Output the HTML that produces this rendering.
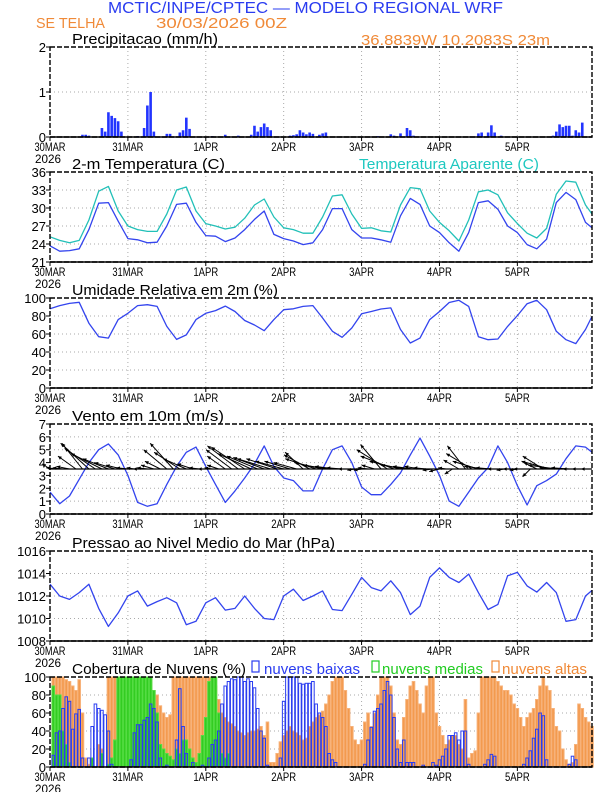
<!DOCTYPE html>
<html><head><meta charset="utf-8"><style>
html,body{margin:0;padding:0;background:#fff;}
svg{display:block;font-family:"Liberation Sans",sans-serif;}
</style></head><body>
<svg id="chart" width="612" height="792" viewBox="0 0 612 792" xmlns="http://www.w3.org/2000/svg">
<text x="108" y="13" font-size="16" fill="#2a3cf0" textLength="395" lengthAdjust="spacingAndGlyphs">MCTIC/INPE/CPTEC — MODELO REGIONAL WRF</text>
<text x="36" y="28" font-size="15" fill="#f08a38" textLength="69" lengthAdjust="spacingAndGlyphs">SE TELHA</text>
<text x="156" y="28" font-size="15" fill="#f08a38" textLength="131" lengthAdjust="spacingAndGlyphs">30/03/2026 00Z</text>
<text x="361" y="45" font-size="15" fill="#f08a38" textLength="189" lengthAdjust="spacingAndGlyphs">36.8839W 10.2083S 23m</text>
<g id="layer"></g>
</svg>
<script>
// ---- data ----
const dayLabels = ["30MAR","31MAR","1APR","2APR","3APR","4APR","5APR"];
const precipHours = [7,10,11,12,16,17,18,19,20,21,22,27,29,30,31,32,36,37,40,41,42,43,50,54,58,62,63,64,65,66,67,68,74,75,76,77,78,79,80,81,83,84,85,101,105,106,108,110,111,112,119,132,133,135,136,137,139,155,156,157,158,159,160,161,162,163,164];
const precipValues = [.01,.05,.05,.03,.2,.12,.55,.47,.42,.35,.12,.02,.2,.7,1.0,.12,.07,.07,.1,.15,.43,.18,.02,.05,.03,.05,.25,.12,.22,.3,.22,.15,.03,.04,.06,.15,.1,.06,.1,.07,.05,.08,.1,.02,.06,.03,.08,.2,.15,.03,.01,.08,.1,.1,.26,.1,.03,.03,.12,.28,.22,.25,.25,.03,.15,.1,.32];
const lineHours = [0,3,6,9,12,15,18,21,24,27,30,33,36,39,42,45,48,51,54,57,60,63,66,69,72,75,78,81,84,87,90,93,96,99,102,105,108,111,114,117,120,123,126,129,132,135,138,141,144,147,150,153,156,159,162,165,167];
const tempValues = [23.7,22.8,22.9,23.2,26.4,30.8,30.9,27.8,24.9,24.7,24.2,24.3,27,30.6,30.8,27.6,25.4,25.3,24.4,25,26.4,28.1,29.5,25.6,24.9,24.5,23.9,24.2,26.4,29.9,29.9,26.4,25,25,24.7,24.3,28.7,31.6,30.6,27,25.9,24.2,22.8,25.9,30.9,31.2,29.8,27,25.9,23.9,23.2,24.8,30.9,32.6,31.4,27.6,26.7];
const apparentValues = [25.2,24.6,24.2,24.6,28,32.8,33.6,29.5,27,26.4,26.1,26.1,29,33,33.5,29.5,27.4,27,26.5,26.8,28.3,30.5,31.5,28.5,26.7,26.4,25.8,25.8,28.5,32,32.2,29,26.6,26.7,26.2,26,30.5,33.4,33.2,29.5,27.6,26.2,24.5,28,32.7,33,32.2,29.2,27.4,25.8,25,26.6,32.3,34.5,34.3,30.5,29];
const humidityValues = [88,91.5,94,95.2,72,57,55.5,76,83,91.5,92.6,90.7,68.5,54,59,76,83,86,91,85,75,70,63.7,76,87,88,90.7,91.5,77.8,63,56.3,66.7,82.6,85,87.8,89,65,50,55.5,76,85,95,97.4,90.7,57,53.7,54.4,68.5,80.4,93.7,97.4,87,63,53.7,49.3,65,79.6];
const windSpeedValues = [1.7,0.8,1.4,2.7,4,5,5.45,4.6,3,0.9,0.6,0.8,2.3,3.7,4.8,5.2,3.7,2.3,0.9,1.8,2.8,3.9,5.3,3.7,2.8,2.6,1.8,1.8,3.5,5,5.3,4,2.1,1.5,1.5,2.3,3.2,4.6,5.9,4.5,3,1,0.6,1.7,2.8,3.6,5.3,4,2.2,0.7,2.2,2.6,3.1,4.3,5.3,5.2,4.8];
const pressureValues = [1013.05,1012,1011.7,1012.3,1013.05,1010.9,1009.3,1010.5,1012,1012.45,1011.1,1011.5,1011.85,1011.4,1009.45,1009.75,1011.4,1011.85,1010.75,1010.9,1012,1010.9,1010,1009.9,1012,1012.6,1011.6,1012,1012.45,1010.8,1010.7,1012.15,1013.65,1012.75,1012.45,1013.35,1012.3,1010.35,1011.1,1013.65,1014.5,1013.65,1013.2,1013.95,1012.3,1010.8,1011.25,1013.8,1014.1,1012.9,1012.35,1013.2,1012.3,1009.75,1009.9,1012,1012.5];
const vectorHours = [0,2,4,6,8,10,12,14,16,18,20,22,24,26,28,30,32,34,36,38,40,42,44,46,48,50,52,54,56,58,60,62,64,66,68,70,72,74,76,78,80,82,84,86,88,90,92,94,96,98,100,102,104,106,108,110,112,114,116,118,120,122,124,126,128,130,132,134,136,138,140,142,144,146,148,150,152,154,156,158,160,162,164,166];
const windU = [-0.6,-0.8,-0.8,-1.0,-1.4,-1.6,-2.2,-2.4,-2.4,-2.0,-1.6,-1.2,-0.9,-0.6,-0.6,-0.8,-1.0,-1.2,-1.8,-1.8,-2.0,-1.8,-1.2,-0.8,-0.6,-0.6,-0.9,-1.4,-2.0,-2.4,-2.6,-2.6,-2.4,-2.4,-2.6,-2.4,-2.2,-2.0,-1.8,-1.4,-2.0,-2.4,-2.2,-2.0,-1.6,-1.2,-0.8,-0.6,-0.6,-0.8,-1.0,-1.6,-2.4,-2.6,-2.4,-2.0,-1.6,-1.2,-1.0,-0.8,-0.8,-0.6,-0.6,-1.2,-1.4,-2.0,-2.0,-1.6,-1.2,-0.8,-0.6,-0.6,-0.6,-0.8,-0.6,-1.0,-1.6,-2.2,-2.2,-1.8,-1.4,-1.0,-0.8,-0.6];
const windV = [0.4,0.1,0.1,0.2,1.0,2.0,2.0,1.6,1.2,0.8,0.5,0.3,0.1,0.1,0.0,0.1,0.3,0.6,1.5,2.0,1.3,0.8,0.4,0.1,0.0,0.1,0.3,1.0,1.5,1.8,1.7,1.2,1.0,0.9,0.8,0.8,0.6,0.6,0.5,1.3,1.1,0.8,0.5,0.3,0.2,0.1,0.0,-0.1,-0.1,0.1,0.3,1.9,1.5,1.0,0.6,0.3,0.2,0.2,0.1,-0.1,-0.2,0.1,-0.4,0.7,1.8,1.2,0.6,0.2,0.1,0.0,-0.1,0.0,-0.1,0.0,-0.6,0.5,1.0,0.6,0.3,0.1,0.1,0.0,0.0,0.0];
const cloudHigh = [0,100,100,100,100,97,95,90,85,97, 60,10,3,0,0,25,20,0, 100,100,100,100,100,100,100,100,100,100,100,100,100,100, 85,80,68,60,55,58, 100,100,100,100,100,100,100,100,100,100,100,100,100, 90,75,60,55,50,48,45,40,38,35,38,40,40,42,45,35,50, 5,5,15,28, 35,40,45,40,38,35,30,32,45,50,55,58, 62,70,80,95,100,100,100,85,65,45,30,25,30, 50,60,45,60,80,100,100,100,90,60,30, 25,55,75,90,95,85,70,60,90,100,100,60, 45,35,25,30,35,35,25,20,75,10,15,18,60,100, 100,100,100,100,95,90,85,85,80,70,65,55,45, 55,60,65,75,90,100,90,85,65, 45,40,20,8,3,5,25,70,65,55,50,45];
const cloudMid = [0,90,80,80,40,25,5,0, 0,0,0,0,0,10,0,0,15,0, 3,10,30,100,100,100, 100,100,100,100,100,100,100,100, 85,60,25,20,15,12,8,20,15,30,30,20,10,5, 15,35,55,95,100,100,60,15,10,15,
 0,0,0,0,0,0,0,0,0,0,0,0,0,0,0,0,0,0,0,0,0,0,0,0,0,0,0,0,0,0,0,0,0,0,0,0,0,0,0,0,0,0,0,0,0,0,0,0,0,0,0,0,0,0,0,0,0,0,0,0,0,0,0,0,0,0,0,0,0,0,0,0,0,0,0,0,0,0,0,0,0,0,0,0,0,0,0,0,0,0,0,0,0,0,0,0,0,0,0,0,0,0,0,0,0,0,0,0,0,0,0,0];
const cloudLow = [0,13,38,40,65,78,73,42,59,64, 10,0,10,45,70,65,63,58,40,3, 0,0,0,0,0,8,38,47,47,52, 55,70,65,50,10,0,2,0,0,30, 87,45,15,0,5,0,0,2,0,10, 25,30,40,70,90,95,98,97,100,100, 95,98,95,88,65,40,32,2,0,0, 0,10,73,100,100,100,100,93,92,93, 93,95,70,60,55,45,15,8,5,0, 0,0,0,0,0,0,0,3,30,44, 62,65,70,85,95,80,55,20,5,30, 5,5,5,0,0,2,0,0,5,2, 8,12,20,35,35,38,30,40,40,3, 0,0,0,0,3,8,14,12,0,0, 0,0,0,0,0,0,3,10,18,32, 42,60,57,8,0,0,0,0,0,0, 3,12,8,0,0,0,0,0];

// ---- helpers ----
const NS = "http://www.w3.org/2000/svg";
const layer = document.getElementById("layer");
const X0 = 50, X1 = 592, HMAX = 167, PH = 90;
function xh(h){ return X0 + h * (X1 - X0) / HMAX; }
function mk(tag, attrs, parent){ const e = document.createElementNS(NS, tag); for (const k in attrs) e.setAttribute(k, attrs[k]); (parent||layer).appendChild(e); return e; }
function txt(s, attrs, parent){ const e = mk("text", attrs, parent); e.textContent = s; return e; }

function panel(name, top, ymin, ymax, ticks, tickFmt){
  const g = mk("g", {});
  
  
  const bot = top + PH;
  const yf = v => bot - (v - ymin) / (ymax - ymin) * PH;
  // grid
  for (let d = 1; d < dayLabels.length; d++) {
    const gl = mk("line", {x1: xh(d*24), x2: xh(d*24), y1: top, y2: bot, stroke: "#aaa", "stroke-dasharray": "1,3"}, g);
    
    
  }
  ticks.forEach((t, i) => {
    if (i > 0 && i < ticks.length - 1) {
      const gl = mk("line", {x1: X0, x2: X1, y1: yf(t), y2: yf(t), stroke: "#aaa", "stroke-dasharray": "1,3"}, g);
      
      
    }
    const tk = mk("line", {x1: X0 - 4, x2: X0, y1: yf(t), y2: yf(t), stroke: "#000"}, g);
    
    
    const lb = txt(tickFmt ? tickFmt(t) : String(t), {x: X0 - 4, y: yf(t) + 5, "font-size": 13, "text-anchor": "end", fill: "#000"}, g);
    
    
  });
  dayLabels.forEach((d, i) => {
    const tk = mk("line", {x1: xh(i*24), x2: xh(i*24), y1: bot, y2: bot + 4, stroke: "#000"}, g);
    
    
    const lb = txt(d, {x: xh(i*24), y: bot + 14, "font-size": 12, "text-anchor": "middle", fill: "#000", textLength: d.length * 6.2, lengthAdjust: "spacingAndGlyphs"}, g);
    
    
  });
  const yr = txt("2026", {x: 48, y: bot + 26, "font-size": 12, "text-anchor": "middle", fill: "#000", textLength: 26, lengthAdjust: "spacingAndGlyphs"}, g);
  
  
  return {g, top, bot, yf};
}
function frame(p){
  const f = mk("rect", {x: X0, y: p.top, width: X1 - X0, height: PH, fill: "none", stroke: "#000", "stroke-width": 1.4, "stroke-dasharray": "5,2"}, p.g);
  
  
  const b = mk("line", {x1: X0, x2: X1, y1: p.bot, y2: p.bot, stroke: "#000", "stroke-width": 1.4}, p.g);
  
  
}
function title(p, s, x, w, color){
  const t = txt(s, {x: x, y: p.top - 3, "font-size": 15, fill: color || "#000", textLength: w, lengthAdjust: "spacingAndGlyphs"}, p.g);
  return t;
}
function line(p, hours, vals, color, name){
  const pts = hours.map((h, i) => xh(h).toFixed(1) + "," + p.yf(vals[i]).toFixed(1)).join(" ");
  const l = mk("polyline", {points: pts, fill: "none", stroke: color, "stroke-width": 1.3, "stroke-linejoin": "round"}, p.g);
  
  
}

// ---- precipitation ----
const p1 = panel("precipitation", 47, 0, 2, [0,1,2]);
let t = title(p1, "Precipitacao (mm/h)", 72, 146);


precipHours.forEach((h, i) => {
  const y = p1.yf(precipValues[i]);
  const r = mk("rect", {x: xh(h) - 1.3, y: y, width: 2.6, height: p1.bot - y, fill: "#2234ff"}, p1.g);
  
  
});
frame(p1);

// ---- temperature ----
const p2 = panel("temperature", 172, 21, 36, [21,24,27,30,33,36]);
t = title(p2, "2-m Temperatura (C)", 72, 153);


t = title(p2, "Temperatura Aparente (C)", 359, 180, "#1ec8c0");


line(p2, lineHours, apparentValues, "#22c0b8", "apparent-temperature-line");
line(p2, lineHours, tempValues, "#3344ee", "temperature-line");
frame(p2);

// ---- humidity ----
const p3 = panel("humidity", 298, 0, 100, [0,20,40,60,80,100]);
t = title(p3, "Umidade Relativa em 2m (%)", 72, 206);


line(p3, lineHours, humidityValues, "#3344ee", "humidity-line");
frame(p3);

// ---- wind ----
const p4 = panel("wind", 424, 0, 7, [0,1,2,3,4,5,6,7]);
t = title(p4, "Vento em 10m (m/s)", 72, 152);


line(p4, lineHours, windSpeedValues, "#3344ee", "wind-speed-line");
const unitPx = PH / 7, baseY = p4.yf(3.5);
vectorHours.forEach((h, i) => {
  const x0 = xh(h), x1 = x0 + windU[i] * unitPx, y1 = baseY - windV[i] * unitPx;
  const a = mk("line", {x1: x0, y1: baseY, x2: x1, y2: y1, stroke: "#000", "stroke-width": 1}, p4.g);
  
  
  const ang = Math.atan2(y1 - baseY, x1 - x0), L = 4;
  const hd = mk("polygon", {points: [x1, y1, x1 - L*Math.cos(ang-0.45), y1 - L*Math.sin(ang-0.45), x1 - L*Math.cos(ang+0.45), y1 - L*Math.sin(ang+0.45)].map(v=>v.toFixed(1)).join(","), fill: "#000"}, p4.g);
  
  
});
const bl = mk("line", {x1: X0, x2: X1, y1: baseY, y2: baseY, stroke: "#000", "stroke-width": 1.2}, p4.g);


frame(p4);

// ---- pressure ----
const p5 = panel("pressure", 551, 1008, 1016, [1008,1010,1012,1014,1016]);
t = title(p5, "Pressao ao Nivel Medio do Mar (hPa)", 72, 263);


line(p5, lineHours, pressureValues, "#3344ee", "pressure-line");
frame(p5);

// ---- clouds ----
const p6 = panel("clouds", 677, 0, 100, [0,20,40,60,80,100]);
t = title(p6, "Cobertura de Nuvens (%)", 72, 174);


const bw = (X1 - X0) / HMAX;
function bars(vals, fill, stroke, name){
  vals.forEach((v, h) => {
    if (v <= 0) return;
    const y = p6.yf(v);
    const r = mk("rect", {x: xh(h) - bw*0.4, y: y, width: bw*0.8, height: p6.bot - y, fill: fill, stroke: stroke, "stroke-width": 1}, p6.g);
    
    
  });
}
bars(cloudHigh, "#f39a4e", "#f7b27a", "high-cloud-bar");
bars(cloudMid, "#33cc22", "#55dd44", "mid-cloud-bar");
bars(cloudLow, "none", "#2a3cf0", "low-cloud-bar");
frame(p6);
// legend
const lg = mk("g", {});


let s = mk("rect", {x: 252, y: 661, width: 7, height: 11, fill: "none", stroke: "#2a3cf0", "stroke-width": 1.2}, lg);


s = txt("nuvens baixas", {x: 264, y: 674, "font-size": 15, fill: "#2a3cf0", textLength: 96, lengthAdjust: "spacingAndGlyphs"}, lg);


s = mk("rect", {x: 372, y: 661, width: 7, height: 11, fill: "none", stroke: "#22cc22", "stroke-width": 1.2}, lg);


s = txt("nuvens medias", {x: 382, y: 674, "font-size": 15, fill: "#22cc22", textLength: 101, lengthAdjust: "spacingAndGlyphs"}, lg);


s = mk("rect", {x: 492, y: 661, width: 7, height: 11, fill: "none", stroke: "#f08a38", "stroke-width": 1.2}, lg);


s = txt("nuvens altas", {x: 502, y: 674, "font-size": 15, fill: "#f08a38", textLength: 85, lengthAdjust: "spacingAndGlyphs"}, lg);


</script>
</body></html>
